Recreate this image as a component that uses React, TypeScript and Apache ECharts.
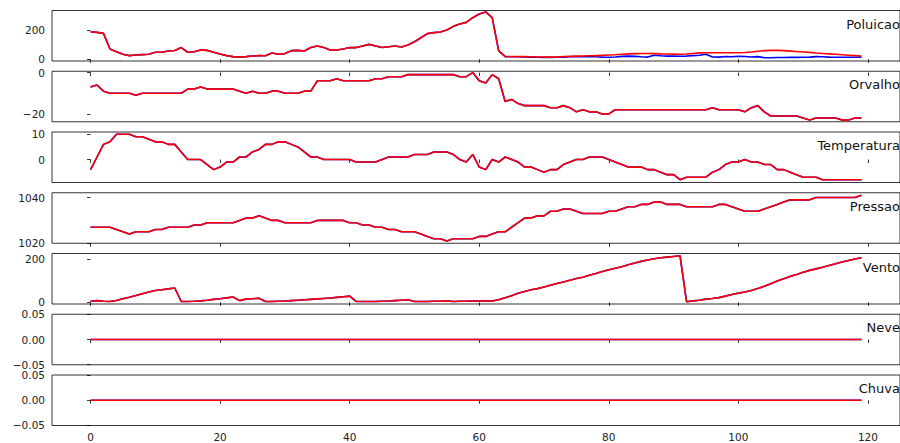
import React, { useEffect, useRef } from "react";
import * as echarts from "echarts";

// ---------- data (index 0..119) ----------
const panelNames = ["Poluicao", "Orvalho", "Temperatura", "Pressao", "Vento", "Neve", "Chuva"];

const poluicaoHead = [
  188, 184, 177, 70, 52, 34, 25, 29, 32, 34, 48, 48, 57, 60, 80, 48, 52, 64, 61, 48,
  36, 25, 18, 15, 18, 22, 25, 24, 43, 34, 39, 59, 61, 57, 80, 91, 80, 64, 64, 70,
  80, 80, 91, 102, 91, 80, 86, 91, 84, 98, 120, 147, 175, 182, 186, 200, 225, 241, 252, 284,
  309, 323,
];
const poluicaoRealTail = [
  284, 57, 18, 17, 17, 16, 15, 14, 13, 13, 14, 15, 17, 18, 17, 20, 17, 15, 14, 16,
  20, 22, 20, 17, 15, 28, 24, 22, 22, 21, 22, 25, 28, 35, 16, 15, 19, 17, 21, 19,
  16, 18, 11, 11, 12, 12, 13, 13, 14, 15, 18, 17, 15, 14, 14, 14, 14, 15,
];
const poluicaoPredTail = [
  284, 57, 20, 19, 18, 18, 17, 16, 15, 15, 16, 18, 20, 22, 23, 24, 25, 27, 29, 31,
  34, 37, 39, 40, 40, 39, 37, 36, 35, 34, 36, 40, 44, 45, 45, 45, 45, 45, 45, 46,
  50, 55, 59, 61, 61, 59, 56, 53, 50, 47, 43, 40, 37, 34, 31, 28, 25, 22,
];
const poluicaoReal = [...poluicaoHead, ...poluicaoRealTail];
const poluicaoPred = [...poluicaoHead, ...poluicaoPredTail];

const orvalho = [
  -7, -6, -9, -10, -10, -10, -10, -11, -10, -10, -10, -10, -10, -10, -10, -8, -8, -7, -8, -8,
  -8, -8, -8, -9, -10, -9, -10, -10, -9, -9, -10, -10, -10, -9, -9, -4, -4, -4, -3, -4,
  -4, -4, -4, -4, -3, -3, -2, -2, -2, -1, -1, -1, -1, -1, -1, -1, -1, -2, -2, 0,
  -4, -5, -1, -3, -14, -13, -15, -16, -16, -16, -16, -17, -17, -16, -17, -19, -18, -19, -19, -20,
  -20, -18, -18, -18, -18, -18, -18, -18, -18, -18, -18, -18, -18, -18, -18, -18, -17, -18, -18, -18,
  -18, -19, -17, -16, -19, -21, -21, -21, -21, -21, -22, -23, -22, -22, -22, -22, -23, -23, -22, -22,
];

const temperatura = [
  -4, 1, 6, 7, 10, 10, 10, 9, 9, 8, 7, 7, 6, 6, 3, 0, 0, 0, -2, -4,
  -3, -1, -1, 1, 1, 3, 4, 6, 6, 7, 7, 6, 5, 3, 1, 1, 0, 0, 0, 0,
  0, -1, -1, -1, -1, 0, 1, 1, 1, 1, 2, 2, 2, 3, 3, 3, 2, 0, -1, 2,
  -3, -4, 0, -1, 1, 0, -1, -3, -3, -4, -5, -4, -4, -2, -1, 0, 0, 1, 1, 1,
  0, -1, -2, -3, -3, -3, -4, -4, -5, -6, -6, -8, -7, -7, -7, -7, -5, -4, -2, -1,
  -1, 0, -1, -1, -2, -2, -4, -4, -5, -6, -7, -7, -7, -8, -8, -8, -8, -8, -8, -8,
];

const pressao = [
  1027, 1027, 1027, 1027, 1026, 1025, 1024, 1025, 1025, 1025, 1026, 1026, 1027, 1027, 1027, 1027, 1028, 1028, 1029, 1029,
  1029, 1029, 1029, 1030, 1031, 1031, 1032, 1031, 1030, 1030, 1029, 1029, 1029, 1029, 1029, 1030, 1030, 1030, 1030, 1030,
  1029, 1029, 1028, 1028, 1027, 1027, 1026, 1026, 1025, 1025, 1025, 1024, 1023, 1022, 1022, 1021, 1022, 1022, 1022, 1022,
  1023, 1023, 1024, 1025, 1025, 1027, 1029, 1031, 1031, 1032, 1032, 1034, 1034, 1035, 1035, 1034, 1033, 1033, 1033, 1033,
  1034, 1034, 1035, 1036, 1036, 1037, 1037, 1038, 1038, 1037, 1037, 1037, 1036, 1036, 1036, 1036, 1036, 1037, 1037, 1036,
  1035, 1034, 1034, 1034, 1035, 1036, 1037, 1038, 1039, 1039, 1039, 1039, 1040, 1040, 1040, 1040, 1040, 1040, 1040, 1041,
];

const vento = [
  5, 8, 5, 4, 9, 17, 24, 32, 40, 48, 55, 59, 63, 67, 4, 4, 5, 7, 10, 14,
  17, 21, 25, 8, 15, 17, 19, 4, 4, 5, 6, 8, 10, 12, 14, 16, 18, 20, 23, 26,
  29, 4, 4, 4, 4, 5, 6, 8, 10, 12, 4, 4, 4, 5, 5, 7, 4, 5, 5, 6,
  6, 7, 6, 12, 21, 31, 42, 51, 59, 64, 72, 80, 88, 95, 103, 111, 117, 126, 134, 144,
  152, 159, 166, 175, 183, 191, 197, 203, 208, 211, 214, 217, 3, 7, 10, 15, 18, 22, 29, 37,
  43, 48, 55, 65, 75, 87, 99, 110, 121, 130, 140, 149, 156, 164, 172, 180, 188, 195, 202, 208,
];

const neve = [
  0, 0, 0, 0, 0, 0, 0, 0, 0, 0, 0, 0, 0, 0, 0, 0, 0, 0, 0, 0,
  0, 0, 0, 0, 0, 0, 0, 0, 0, 0, 0, 0, 0, 0, 0, 0, 0, 0, 0, 0,
  0, 0, 0, 0, 0, 0, 0, 0, 0, 0, 0, 0, 0, 0, 0, 0, 0, 0, 0, 0,
  0, 0, 0, 0, 0, 0, 0, 0, 0, 0, 0, 0, 0, 0, 0, 0, 0, 0, 0, 0,
  0, 0, 0, 0, 0, 0, 0, 0, 0, 0, 0, 0, 0, 0, 0, 0, 0, 0, 0, 0,
  0, 0, 0, 0, 0, 0, 0, 0, 0, 0, 0, 0, 0, 0, 0, 0, 0, 0, 0, 0,
];
const chuva = [...neve];

const realSeries = [poluicaoReal, orvalho, temperatura, pressao, vento, neve, chuva];
const predSeries = [poluicaoPred, orvalho, temperatura, pressao, vento, neve, chuva];

const xTicks = [0, 20, 40, 60, 80, 100, 120];
const yTicks = [[0, 200], [-20, 0], [0, 10], [1020, 1040], [0, 200], [-0.05, 0, 0.05], [-0.05, 0, 0.05]];
const yRanges = [[-11.6, 333], [-23.8, 0.63], [-9.1, 10.9], [1020, 1042.1], [-7.7, 227.7], [-0.0502, 0.0502], [-0.0502, 0.0502]];
const yDecimals = [0, 0, 0, 0, 0, 2, 2];

export default function App() {
  const ref = useRef<HTMLDivElement>(null);
  useEffect(() => {
    if (!ref.current) return;
    const chart = echarts.init(ref.current, undefined, { renderer: "svg" });
    const FONT = "DejaVu Sans";
    const LEFT = 52;
    const WIDTH = 849;
    const TOP0 = 10.5;
    const STEP = 60.75;
    const H = 50.5;
    const fmt = (d: number) => (v: number) => {
      const s = Math.abs(v) < 1e-9 ? (0).toFixed(d) : v.toFixed(d);
      return s.replace("-", "\u2212");
    };
    const grids: any[] = [];
    const xAxes: any[] = [];
    const yAxes: any[] = [];
    const series: any[] = [];
    const graphics: any[] = [];
    panelNames.forEach((name, k) => {
      const top = TOP0 + STEP * k;
      grids.push({
        left: LEFT, top, width: WIDTH, height: H, show: true,
        borderColor: "#000", borderWidth: 0.8, backgroundColor: "transparent",
      });
      xAxes.push({
        type: "value", gridIndex: k, min: -5.95, max: 124.95,
        splitLine: { show: false }, axisLine: { show: false },
        axisTick: { show: true, customValues: xTicks, length: 3.5, inside: false, lineStyle: { color: "#000", width: 0.8 } },
        axisLabel: {
          show: k === panelNames.length - 1, customValues: xTicks, margin: 6,
          fontSize: 10.5, fontFamily: FONT, color: "#222",
        },
      });
      yAxes.push({
        type: "value", gridIndex: k, min: yRanges[k][0], max: yRanges[k][1],
        splitLine: { show: false }, axisLine: { show: false },
        axisTick: { show: true, customValues: yTicks[k], length: 3.5, inside: false, lineStyle: { color: "#000", width: 0.8 } },
        axisLabel: {
          show: true, customValues: yTicks[k], margin: 7, formatter: fmt(yDecimals[k]),
          fontSize: 10.5, fontFamily: FONT, color: "#222",
        },
      });
      series.push({
        type: "line", xAxisIndex: k, yAxisIndex: k, showSymbol: false, symbol: "none",
        data: realSeries[k].map((v, i) => [i, v]),
        lineStyle: { color: "#0000ff", width: 1.6 }, z: 2,
      });
      series.push({
        type: "line", xAxisIndex: k, yAxisIndex: k, showSymbol: false, symbol: "none",
        data: predSeries[k].map((v, i) => [i, v]),
        lineStyle: { color: "#ff0000", width: 1.6 }, z: 3,
      });
      graphics.push({
        type: "text", x: 900, y: top + 13.5, z: 10,
        style: {
          text: name, textAlign: "right", textVerticalAlign: "middle",
          font: `13px "${FONT}"`, fill: "#111",
        },
      });
    });
    chart.setOption({
      animation: false,
      backgroundColor: "#fff",
      grid: grids,
      xAxis: xAxes,
      yAxis: yAxes,
      series,
      graphic: graphics,
    });
    return () => chart.dispose();
  }, []);
  return (
    <div
      ref={ref}
      style={{ position: "absolute", left: 0, top: 0, width: 900, height: 443 }}
    />
  );
}
